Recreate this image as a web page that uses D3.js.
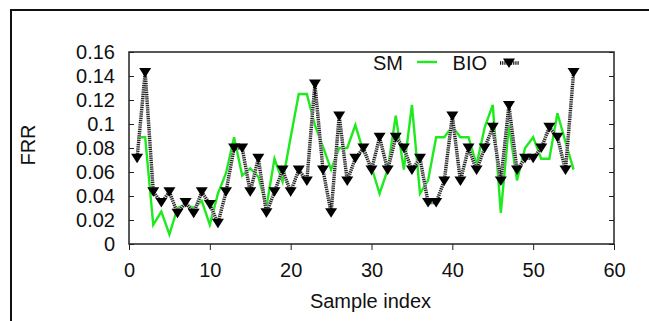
<!DOCTYPE html>
<html>
<head>
<meta charset="utf-8">
<script src="https://cdn.jsdelivr.net/npm/d3@7"></script>
<style>
  body { margin: 0; background: #fff; }
  svg { display: block; font-family: "Liberation Sans", Arial, sans-serif; }
</style>
</head>
<body>
<div class="line-canvas"></div>
<script>
var sampleIdx = [1, 2, 3, 4, 5, 6, 7, 8, 9, 10, 11, 12, 13, 14, 15, 16, 17, 18, 19, 20,
  21, 22, 23, 24, 25, 26, 27, 28, 29, 30, 31, 32, 33, 34, 35, 36, 37, 38, 39, 40,
  41, 42, 43, 44, 45, 46, 47, 48, 49, 50, 51, 52, 53, 54, 55];

var smFRR = [0.089, 0.089, 0.016, 0.027, 0.008, 0.030, 0.033, 0.030, 0.036, 0.016,
  0.042, 0.059, 0.089, 0.057, 0.063, 0.056, 0.031, 0.071, 0.052, 0.089,
  0.125, 0.125, 0.099, 0.081, 0.062, 0.080, 0.080, 0.099, 0.077, 0.064,
  0.042, 0.062, 0.107, 0.062, 0.116, 0.042, 0.053, 0.089, 0.089, 0.098,
  0.089, 0.089, 0.066, 0.097, 0.116, 0.026, 0.099, 0.053, 0.080, 0.089,
  0.071, 0.071, 0.109, 0.085, 0.062];

var bioFRR = [0.0714, 0.1429, 0.0435, 0.0345, 0.0435, 0.0256, 0.0345, 0.0256, 0.0435, 0.033,
  0.0172, 0.0435, 0.0800, 0.0800, 0.0435, 0.0714, 0.0260, 0.0435, 0.0617, 0.0435,
  0.0617, 0.0526, 0.1333, 0.0617, 0.0260, 0.1067, 0.0526, 0.0714, 0.0800, 0.0617,
  0.0889, 0.0617, 0.0889, 0.0800, 0.0617, 0.0714, 0.0345, 0.0345, 0.0526, 0.1067,
  0.0526, 0.0800, 0.0617, 0.0800, 0.0972, 0.0526, 0.1154, 0.0617, 0.0714, 0.0714,
  0.0800, 0.0972, 0.0889, 0.0617, 0.1429];

var xTicks = [0, 10, 20, 30, 40, 50, 60];
var yTicks = [0, 0.02, 0.04, 0.06, 0.08, 0.1, 0.12, 0.14, 0.16];
var seriesNames = ["SM", "BIO"];

var width = 649, height = 321;
var mLeft = 129, mRight = 614, mTop = 52, mBottom = 244;

var svg = d3.select(".line-canvas")
  .append("svg")
  .attr("width", width)
  .attr("height", height)
  .attr("viewBox", [0, 0, width, height]);

// outer frame (cut off at right and bottom)
svg.append("rect")
  .attr("x", 11).attr("y", 10)
  .attr("width", 700).attr("height", 400)
  .attr("fill", "none")
  .attr("stroke", "#111")
  .attr("stroke-width", 2);

var x = d3.scaleLinear().domain([0, 60]).range([mLeft, mRight]);
var y = d3.scaleLinear().domain([0, 0.16]).range([mBottom, mTop]);

var fmt = d => d === 0 ? "0" : String(+d.toFixed(2));

// bottom axis, ticks outward
svg.append("g")
  .attr("transform", `translate(0,${mBottom})`)
  .call(d3.axisBottom(x).tickValues(xTicks).tickSize(6).tickPadding(13).tickSizeOuter(0))
  .call(g => g.select(".domain").remove())
  .call(g => g.selectAll("line").attr("stroke", "#222"))
  .call(g => g.selectAll("text").attr("font-size", 20).attr("fill", "#111")
    .attr("font-family", "Liberation Sans, Arial, sans-serif"));

// left axis, ticks inward
svg.append("g")
  .attr("transform", `translate(${mLeft},0)`)
  .call(d3.axisRight(y).tickValues(yTicks).tickSize(5).tickFormat(""))
  .call(g => g.select(".domain").remove())
  .call(g => g.selectAll("line").attr("stroke", "#222"));

svg.append("g")
  .selectAll("text")
  .data(yTicks)
  .enter()
  .append("text")
  .attr("x", 115)
  .attr("y", d => y(d))
  .attr("dy", "0.36em")
  .attr("text-anchor", "end")
  .attr("font-size", 20)
  .attr("fill", "#111")
  .text(fmt);

// right mirror ticks
svg.append("g")
  .attr("transform", `translate(${mRight},0)`)
  .call(d3.axisLeft(y).tickValues(yTicks).tickSize(5).tickFormat(""))
  .call(g => g.select(".domain").remove())
  .call(g => g.selectAll("line").attr("stroke", "#222"));

// plot box
svg.append("rect")
  .attr("x", mLeft).attr("y", mTop)
  .attr("width", mRight - mLeft).attr("height", mBottom - mTop)
  .attr("fill", "none")
  .attr("stroke", "#222")
  .attr("stroke-width", 1.5);

var smData = sampleIdx.map((s, i) => ({ idx: s, v: smFRR[i] }));
var bioData = sampleIdx.map((s, i) => ({ idx: s, v: bioFRR[i] }));

var line = d3.line().x(d => x(d.idx)).y(d => y(d.v));

// SM
svg.append("path")
  .datum(smData)
  .attr("fill", "none")
  .attr("stroke", "#1eea1e")
  .attr("stroke-width", 2.4)
  .attr("stroke-linejoin", "miter")
  .attr("d", line);

// BIO: striped dotted line
svg.append("path")
  .datum(bioData)
  .attr("fill", "none")
  .attr("stroke", "#cfcfcf")
  .attr("stroke-width", 3.4)
  .attr("d", line);

svg.append("path")
  .datum(bioData)
  .attr("fill", "none")
  .attr("stroke", "#111")
  .attr("stroke-width", 3.4)
  .attr("stroke-dasharray", "1,1.2")
  .attr("d", line);

var tri = "M-6,-4.5L6,-4.5L0,5Z";

svg.append("g")
  .selectAll("path")
  .data(bioData)
  .enter()
  .append("path")
  .attr("d", tri)
  .attr("transform", d => `translate(${x(d.idx)},${y(d.v)})`)
  .attr("fill", "#000");

// legend
svg.append("text")
  .attr("x", 403).attr("y", 70)
  .attr("text-anchor", "end")
  .attr("font-size", 20)
  .attr("fill", "#111")
  .text(seriesNames[0]);

svg.append("line")
  .attr("x1", 417).attr("x2", 437)
  .attr("y1", 62).attr("y2", 62)
  .attr("stroke", "#1eea1e")
  .attr("stroke-width", 2.4);

svg.append("text")
  .attr("x", 487).attr("y", 70)
  .attr("text-anchor", "end")
  .attr("font-size", 20)
  .attr("fill", "#111")
  .text(seriesNames[1]);

svg.append("line")
  .attr("x1", 500).attr("x2", 519)
  .attr("y1", 63).attr("y2", 63)
  .attr("stroke", "#cfcfcf")
  .attr("stroke-width", 3.4);

svg.append("line")
  .attr("x1", 500).attr("x2", 519)
  .attr("y1", 63).attr("y2", 63)
  .attr("stroke", "#111")
  .attr("stroke-width", 3.4)
  .attr("stroke-dasharray", "1,1.2");

svg.append("path")
  .attr("d", tri)
  .attr("transform", "translate(509,63)")
  .attr("fill", "#000");

// axis titles
svg.append("text")
  .attr("x", (mLeft + mRight) / 2 - 1)
  .attr("y", 308)
  .attr("text-anchor", "middle")
  .attr("font-size", 20)
  .attr("fill", "#111")
  .text("Sample index");

svg.append("text")
  .attr("transform", "translate(35,145) rotate(-90)")
  .attr("text-anchor", "middle")
  .attr("font-size", 20)
  .attr("fill", "#111")
  .text("FRR");
</script>
</body>
</html>
